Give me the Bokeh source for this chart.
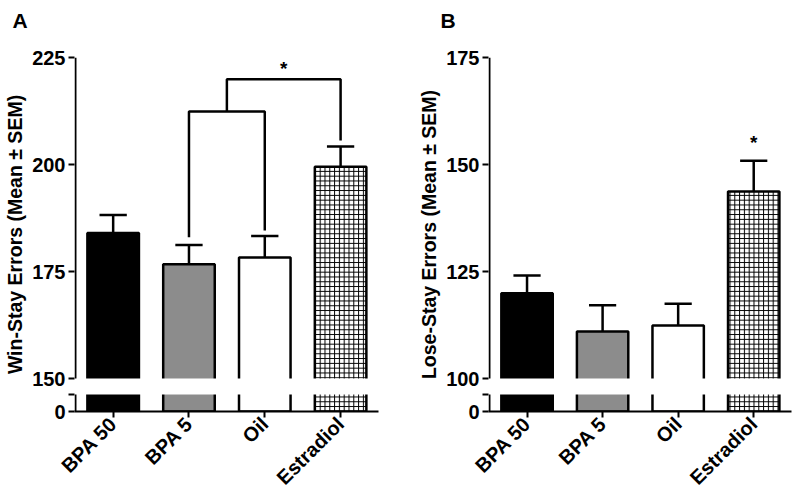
import math
from bokeh.plotting import figure
from bokeh.models import FixedTicker, Range1d, ColumnDataSource
from bokeh.layouts import row
from bokeh.embed import file_html
from bokeh.resources import INLINE
from bokeh.core.properties import value

# ---------------- data ----------------
groups = ["BPA 50", "BPA 5", "Oil", "Estradiol"]
win_stay_mean = [184.0, 176.7, 178.3, 199.5]
win_stay_sem = [4.2, 4.5, 5.0, 4.7]
lose_stay_mean = [119.9, 111.0, 112.4, 143.7]
lose_stay_sem = [4.2, 6.1, 5.1, 7.2]

win_ticks = [150, 175, 200, 225]
lose_ticks = [100, 125, 150, 175]

# significance annotations (panel A brackets, stars)
a_bracket_low = 212.4        # BPA 5 vs Oil bracket height
a_bracket_low_legs = [183.0, 184.6]
a_bracket_high = 219.9       # (BPA 5 + Oil) vs Estradiol
a_bracket_high_leg = 205.6
a_star = 222.5
b_star = 155.1

bar_fill = ["black", "#8c8c8c", "white", "white"]
bar_hatch = [" ", " ", " ", "+"]

FONT = "Liberation Sans"
FRAME_H = 354


def make_panel(letter, ylabel, means, sems, ticks, min_left, min_right, fw, letter_dx):
    lo, hi = ticks[0], ticks[-1]
    floor = lo - 7.7      # where "0" sits on the broken axis
    brk = lo - 3.7        # top of the lower axis piece
    xs = list(range(1, len(groups) + 1))
    x0, x1 = 0.49, len(groups) + 0.5

    p = figure(frame_width=fw, frame_height=FRAME_H, output_backend="svg",
               toolbar_location=None, title=letter + "\n",
               x_range=Range1d(x0, x1), y_range=Range1d(floor, hi),
               min_border_left=min_left, min_border_right=min_right,
               min_border_top=57, min_border_bottom=87)
    p.title.align = "left"
    p.title.text_font = FONT
    p.title.text_font_size = "21px"
    p.title.text_font_style = "bold"
    p.title.text_color = "black"
    p.title.standoff = 6
    p.title.offset = letter_dx
    p.grid.visible = False
    p.outline_line_color = None
    p.background_fill_color = "white"
    p.border_fill_color = "white"

    src = ColumnDataSource(dict(x=xs, top=means, fill=bar_fill, hatch=bar_hatch,
                                up=[m + s for m, s in zip(means, sems)]))
    p.vbar(x="x", top="top", bottom=floor, width=0.68, source=src,
           fill_color="fill", line_color="black", line_width=2.5,
           hatch_pattern="hatch", hatch_color="black", hatch_scale=4.8,
           hatch_weight=1)
    # axis break (white band through bars)
    p.quad(left=x0, right=x1, bottom=brk, top=lo, fill_color="white",
           line_color=None)
    # error bars (mean + SEM)
    p.segment(x0="x", y0="top", x1="x", y1="up", source=src,
              line_color="black", line_width=2.5)
    p.segment(x0=[x - 0.18 for x in xs], y0=src.data["up"],
              x1=[x + 0.18 for x in xs], y1=src.data["up"],
              line_color="black", line_width=2.5)
    # broken y-axis line
    xa = x0 + 0.013
    p.segment(x0=[xa, xa], y0=[lo, floor], x1=[xa, xa], y1=[hi, brk],
              line_color="black", line_width=2)

    ax = p.yaxis[0]
    ax.ticker = FixedTicker(ticks=[floor, brk] + ticks, minor_ticks=[])
    ax.major_label_overrides = {floor: "0", brk: ""}
    ax.axis_line_color = None
    ax.major_tick_in = 0
    ax.major_tick_out = 6
    ax.major_tick_line_width = 2
    ax.major_tick_line_color = "black"
    ax.major_label_standoff = 3
    ax.major_label_text_font = FONT
    ax.major_label_text_font_size = "20px"
    ax.major_label_text_font_style = "bold"
    ax.major_label_text_color = "black"
    ax.axis_label = ylabel
    ax.axis_label_text_font = FONT
    ax.axis_label_text_font_size = "19.5px"
    ax.axis_label_text_font_style = "bold"
    ax.axis_label_text_color = "black"
    ax.axis_label_standoff = 3

    xa_ = p.xaxis[0]
    xa_.ticker = FixedTicker(ticks=xs, minor_ticks=[])
    xa_.major_label_overrides = {x: g for x, g in zip(xs, groups)}
    xa_.major_label_orientation = math.pi / 4
    xa_.axis_line_width = 2
    xa_.axis_line_color = "black"
    xa_.major_tick_in = 0
    xa_.major_tick_out = 6
    xa_.major_tick_line_width = 2
    xa_.major_tick_line_color = "black"
    xa_.major_label_standoff = 3
    xa_.major_label_text_font = FONT
    xa_.major_label_text_font_size = "20px"
    xa_.major_label_text_font_style = "bold"
    xa_.major_label_text_color = "black"
    return p, xs


pA, xs = make_panel("A", "Win-Stay Errors (Mean ± SEM)", win_stay_mean,
                    win_stay_sem, win_ticks, 74, 27, 304, -62)
# brackets, panel A
pA.line(x=[xs[1], xs[1], xs[2], xs[2]],
        y=[a_bracket_low_legs[0], a_bracket_low, a_bracket_low, a_bracket_low_legs[1]],
        line_color="black", line_width=2.5)
mid = (xs[1] + xs[2]) / 2
pA.line(x=[mid, mid, xs[3], xs[3]],
        y=[a_bracket_low, a_bracket_high, a_bracket_high, a_bracket_high_leg],
        line_color="black", line_width=2.5)
pA.text(x=[(mid + xs[3]) / 2], y=[a_star], text=["*"], text_align="center",
        text_baseline="middle", text_font=value(FONT), text_font_size="19px",
        text_font_style="bold")

pB, _ = make_panel("B", "Lose-Stay Errors (Mean ± SEM)", lose_stay_mean,
                   lose_stay_sem, lose_ticks, 83, 9, 303, -48)
pB.text(x=[xs[3]], y=[b_star], text=["*"], text_align="center",
        text_baseline="middle", text_font=value(FONT), text_font_size="19px",
        text_font_style="bold")

layout = row(pA, pB)
open("out.html", "w").write(file_html(layout, INLINE))
